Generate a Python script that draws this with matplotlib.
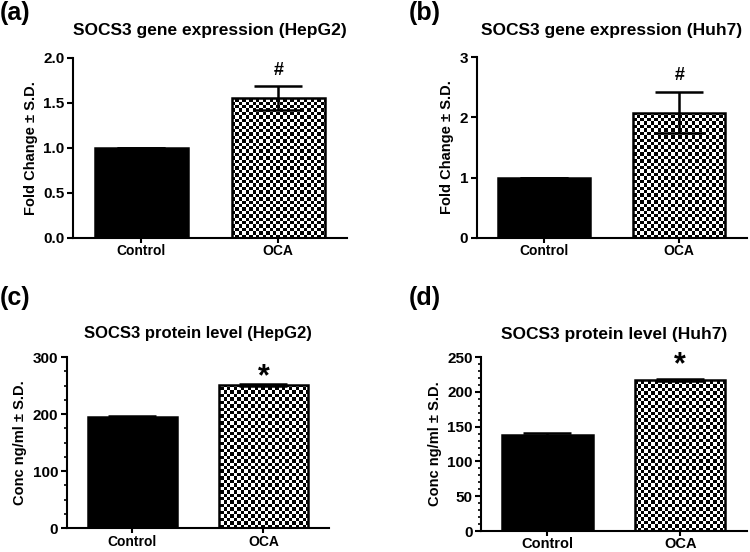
import numpy as np
import matplotlib
matplotlib.use('Agg')
import matplotlib.pyplot as plt
from matplotlib.ticker import MultipleLocator

plt.rcParams['font.family'] = ['Liberation Sans', 'DejaVu Sans']
plt.rcParams['font.weight'] = 'bold'

# data
groups = ['Control', 'OCA']
panels = ['(a)', '(b)', '(c)', '(d)']
titles = ['SOCS3 gene expression (HepG2)', 'SOCS3 gene expression (Huh7)',
          'SOCS3 protein level (HepG2)', 'SOCS3 protein level (Huh7)']
ylabels = ['Fold Change \u00b1 S.D.', 'Fold Change \u00b1 S.D.',
           'Conc ng/ml \u00b1 S.D.', 'Conc ng/ml \u00b1 S.D.']
means = [[1.0, 1.55], [1.0, 2.08], [195, 251], [138.5, 217]]
sds = [[0.0, 0.135], [0.0, 0.335], [1.0, 2.0], [3.0, 1.5]]
signs = ['#', '#', '*', '*']
ymax = [2.0, 3.0, 300, 250]
ymajor = [0.5, 1, 100, 50]
yminor = [None, None, 25, 10]

fig = plt.figure(figsize=(7.5, 5.52), dpi=100)

# axes boxes in figure fraction
boxes = [[0.0973, 0.569, 0.365, 0.3266],
         [0.6356, 0.5694, 0.360, 0.3268],
         [0.0889, 0.0429, 0.3497, 0.3103],
         [0.6413, 0.0380, 0.3543, 0.315]]
title_pad = [16, 16, 14, 13]
title_size = [12.5, 12.5, 12, 12.5]
xlab_size = [10, 10, 10, 10.5]
sign_off = [5, 6, -6, -1]
sign_size = [13, 13, 22, 22]
lab_pos = [(0.0, 0.976), (0.545, 0.976), (0.0, 0.461), (0.545, 0.461)]

for i in range(4):
    ax = fig.add_axes(boxes[i])
    x = np.arange(len(groups))
    bars = ax.bar(x, means[i], width=0.68, color=['black', 'none'],
                  edgecolor='black', linewidth=1.8, zorder=2)

    # checkerboard fill for OCA bar
    bw = boxes[i][2] * 750
    bh = boxes[i][3] * 552
    nc = int(round(bw / 3.4))
    nr = int(round(bh / 3.4))
    checker = np.indices((nr, nc)).sum(axis=0) % 2
    im = ax.imshow(checker, cmap='gray', extent=(0, 1, 0, 1), transform=ax.transAxes,
                   interpolation='nearest', aspect='auto', zorder=1)
    im.set_clip_path(bars[1])

    ax.errorbar(x, means[i], yerr=sds[i], fmt='none', ecolor='black',
                elinewidth=1.8, capsize=17, capthick=1.8, zorder=3)

    ax.annotate(signs[i], (1, means[i][1] + sds[i][1]), xytext=(0, sign_off[i]),
                textcoords='offset points', ha='center', va='bottom',
                fontsize=sign_size[i], fontweight='bold')

    ax.set_xlim(-0.5, 1.5)
    ax.set_ylim(0, ymax[i])
    ax.yaxis.set_major_locator(MultipleLocator(ymajor[i]))
    if yminor[i]:
        ax.yaxis.set_minor_locator(MultipleLocator(yminor[i]))
    ax.set_xticks(x)
    ax.set_xticklabels(groups)

    for s in ['top', 'right']:
        ax.spines[s].set_visible(False)
    for s in ['left', 'bottom']:
        ax.spines[s].set_linewidth(1.5)
    ax.tick_params(which='major', length=4, width=1.5, labelsize=11, pad=2)
    ax.tick_params(which='minor', length=2.5, width=1.2)
    ax.tick_params(axis='x', labelsize=xlab_size[i], length=3.5, pad=1)

    ax.set_ylabel(ylabels[i], fontsize=10.5, fontweight='bold')
    ax.set_title(titles[i], fontsize=title_size[i], fontweight='bold', pad=title_pad[i])
    fig.text(lab_pos[i][0], lab_pos[i][1], panels[i], fontsize=18,
             fontweight='bold', va='center', ha='left')

plt.savefig('out.png', dpi=100)
